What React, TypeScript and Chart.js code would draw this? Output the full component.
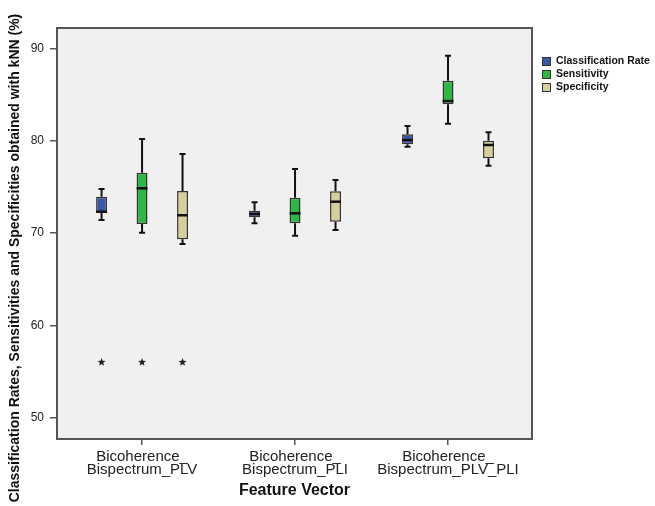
import React, { useEffect, useRef } from "react";
import { Chart, registerables } from "chart.js";

Chart.register(...registerables);

const FONT = "'Liberation Sans', Arial, sans-serif";

// ---- data ----
const categories = [
  ["Bicoherence_", "Bispectrum_PLV"],
  ["Bicoherence_", "Bispectrum_PLI"],
  ["Bicoherence_", "Bispectrum_PLV_PLI"],
];
const seriesNames = ["Classification Rate", "Sensitivity", "Specificity"];
const seriesColors = ["#3b55a8", "#2db845", "#d5cf9b"];

const rateMin = [71.4, 71.05, 79.35];
const rateQ1 = [72.2, 71.7, 79.6];
const rateMedian = [72.3, 72.06, 80.07];
const rateQ3 = [73.93, 72.41, 80.69];
const rateMax = [74.76, 73.32, 81.59];
const rateOutliers = [[56.0], [], []];

const sensMin = [70.03, 69.71, 81.84];
const sensQ1 = [70.97, 71.05, 83.94];
const sensMedian = [74.84, 72.13, 84.29];
const sensQ3 = [76.53, 73.82, 86.49];
const sensMax = [80.18, 76.93, 89.2];
const sensOutliers = [[56.0], [], []];

const specMin = [68.81, 70.33, 77.29];
const specQ1 = [69.32, 71.22, 78.09];
const specMedian = [71.92, 73.39, 79.53];
const specQ3 = [74.55, 74.51, 80.0];
const specMax = [78.55, 75.74, 80.9];
const specOutliers = [[56.0], [], []];

const yTicks = [50, 60, 70, 80, 90];
const yTitle = "Classification Rates, Sensitivities and Specificities obtained with kNN (%)";
const xTitle = "Feature Vector";

const stats = [
  { min: rateMin, q1: rateQ1, med: rateMedian, q3: rateQ3, max: rateMax, out: rateOutliers },
  { min: sensMin, q1: sensQ1, med: sensMedian, q3: sensQ3, max: sensMax, out: sensOutliers },
  { min: specMin, q1: specQ1, med: specMedian, q3: specQ3, max: specMax, out: specOutliers },
];

function drawStar(ctx: CanvasRenderingContext2D, x: number, y: number, r: number) {
  ctx.beginPath();
  for (let k = 0; k < 10; k++) {
    const rad = k % 2 === 0 ? r : r * 0.42;
    const a = -Math.PI / 2 + (k * Math.PI) / 5;
    const px = x + rad * Math.cos(a);
    const py = y + rad * Math.sin(a);
    if (k === 0) ctx.moveTo(px, py);
    else ctx.lineTo(px, py);
  }
  ctx.closePath();
  ctx.fill();
}

const boxPlugin = {
  id: "boxParts",
  beforeDraw(chart: any) {
    const { ctx, chartArea: a } = chart;
    ctx.save();
    ctx.fillStyle = "#f0f0f0";
    ctx.fillRect(a.left, a.top, a.right - a.left, a.bottom - a.top);
    ctx.restore();
  },
  afterDatasetsDraw(chart: any) {
    const { ctx } = chart;
    const ys = chart.scales.y;
    ctx.save();
    chart.data.datasets.forEach((_ds: any, di: number) => {
      const meta = chart.getDatasetMeta(di);
      const st = stats[di];
      meta.data.forEach((bar: any, i: number) => {
        const { x, width } = bar.getProps(["x", "width"], true);
        const yMin = ys.getPixelForValue(st.min[i]);
        const yQ1 = ys.getPixelForValue(st.q1[i]);
        const yQ3 = ys.getPixelForValue(st.q3[i]);
        const yMax = ys.getPixelForValue(st.max[i]);
        const yMed = ys.getPixelForValue(st.med[i]);
        ctx.strokeStyle = "#111";
        ctx.lineWidth = 2;
        ctx.beginPath();
        ctx.moveTo(x, yQ3);
        ctx.lineTo(x, yMax);
        ctx.moveTo(x, yQ1);
        ctx.lineTo(x, yMin);
        ctx.moveTo(x - 3, yMax);
        ctx.lineTo(x + 3, yMax);
        ctx.moveTo(x - 3, yMin);
        ctx.lineTo(x + 3, yMin);
        ctx.stroke();
        ctx.lineWidth = 2.5;
        ctx.beginPath();
        ctx.moveTo(x - width / 2, yMed);
        ctx.lineTo(x + width / 2, yMed);
        ctx.stroke();
        ctx.fillStyle = "#222";
        st.out[i].forEach((v: number) => {
          drawStar(ctx, x, ys.getPixelForValue(v), 4.2);
        });
      });
    });
    ctx.restore();
  },
  afterDraw(chart: any) {
    const { ctx, chartArea: a } = chart;
    ctx.save();
    // frame
    ctx.strokeStyle = "#555";
    ctx.lineWidth = 2;
    ctx.strokeRect(a.left, a.top, a.right - a.left, a.bottom - a.top);
    // y title
    ctx.fillStyle = "#111";
    ctx.font = `bold 14px ${FONT}`;
    ctx.textAlign = "center";
    ctx.textBaseline = "middle";
    ctx.translate(15, 258);
    ctx.rotate(-Math.PI / 2);
    ctx.fillText(yTitle, 0, 0);
    ctx.restore();
    // legend
    ctx.save();
    ctx.font = `bold 10.5px ${FONT}`;
    ctx.textAlign = "left";
    ctx.textBaseline = "middle";
    const lx = a.right + 10;
    chart.data.datasets.forEach((ds: any, di: number) => {
      const ly = a.top + 29 + di * 13;
      ctx.fillStyle = ds.backgroundColor;
      ctx.fillRect(lx, ly, 9, 9);
      ctx.strokeStyle = "#333";
      ctx.lineWidth = 1;
      ctx.strokeRect(lx + 0.5, ly + 0.5, 8, 8);
      ctx.fillStyle = "#111";
      ctx.fillText(ds.label, lx + 14, ly + 4.5);
    });
    ctx.restore();
  },
};

export default function App() {
  const ref = useRef<HTMLCanvasElement | null>(null);
  useEffect(() => {
    document.body.style.margin = "0";
    if (!ref.current) return;
    Chart.defaults.font.family = FONT;
    const chart = new Chart(ref.current, {
      type: "bar",
      data: {
        datasets: stats.map((st, di) => ({
          label: seriesNames[di],
          data: st.q1.map((q1, i) => ({ x: i, y: [q1, st.q3[i]] })),
          backgroundColor: seriesColors[di],
          borderColor: "#333",
          borderWidth: 1.5,
          borderSkipped: false,
          categoryPercentage: 0.794,
          barPercentage: 0.27,
        })),
      } as any,
      plugins: [boxPlugin],
      options: {
        animation: false,
        responsive: true,
        maintainAspectRatio: false,
        events: [],
        layout: { padding: { top: 28, right: 123, left: 0, bottom: 0 } },
        plugins: { legend: { display: false }, tooltip: { enabled: false } },
        scales: {
          x: {
            type: "linear",
            min: -0.556,
            max: 2.549,
            offset: false,
            afterBuildTicks: (s: any) => {
              s.ticks = categories.map((_c, i) => ({ value: i }));
            },
            afterFit: (s: any) => {
              s.height = 67;
            },
            ticks: {
              callback: (v: any) => categories[v as number],
              font: { size: 15, lineHeight: 0.9 },
              color: "#222",
              padding: 5,
              maxRotation: 0,
              autoSkip: false,
            },
            grid: { offset: false, drawOnChartArea: false, tickLength: 6, color: "#555", lineWidth: 1.5 },
            border: { display: false },
            title: {
              display: true,
              text: xTitle,
              font: { size: 16, weight: "bold" },
              color: "#111",
              padding: { top: 0, bottom: 6 },
            },
          },
          y: {
            type: "linear",
            min: 47.69,
            max: 92.2,
            beginAtZero: false,
            afterBuildTicks: (s: any) => {
              s.ticks = yTicks.map((v) => ({ value: v }));
            },
            afterFit: (s: any) => {
              s.width = 57;
            },
            ticks: { font: { size: 12 }, color: "#222", padding: 6 },
            grid: { drawOnChartArea: false, tickLength: 7, color: "#555", lineWidth: 1.5 },
            border: { display: false },
          },
        },
      } as any,
    });
    return () => chart.destroy();
  }, []);
  return (
    <div style={{ position: "relative", width: 655, height: 506 }}>
      <canvas ref={ref} />
    </div>
  );
}
